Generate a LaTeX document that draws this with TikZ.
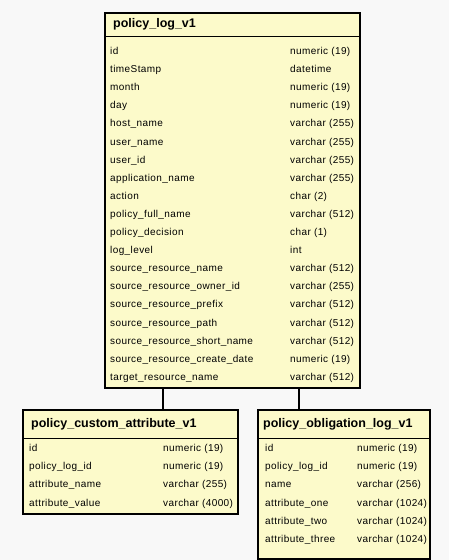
\documentclass[tikz,border=0pt]{standalone}
\usepackage{fontspec}
\setmainfont{Liberation Sans}
\newfontfamily\letracampo{Liberation Sans}[LetterSpace=4]
\definecolor{fondo}{RGB}{248,248,248}
\definecolor{tabla}{RGB}{252,250,202}
\tikzset{
  caja/.style={draw=black, line width=1.5pt, fill=tabla, anchor=north west, inner sep=0pt},
  titulo/.style={anchor=west, inner sep=0pt, font=\fontsize{12.5}{14}\selectfont\bfseries, text height=9pt, text depth=3pt},
  campo/.style={anchor=west, inner sep=0pt, font=\fontsize{10}{12}\selectfont\letracampo, text height=7pt, text depth=2pt},
  enlace/.style={line width=2pt}
}
\begin{document}
\begin{tikzpicture}[x=1pt, y=-1pt]
    % Fondo
    \fill[fondo] (0,0) rectangle (449,560);
    \useasboundingbox (0,0) rectangle (449,560);

    % Tabla principal
    \node[caja, minimum width=255pt, minimum height=375pt] (log) at (104,12) {};
    \draw[line width=0.8pt] ([yshift=-24pt]log.north west) -- ([yshift=-24pt]log.north east);
    \node[titulo] (log-tit) at (113,24) {policy\_log\_v1};
    \foreach \nombre/\tipo [count=\i from 0] in {
        id/numeric (19), timeStamp/datetime, month/numeric (19), day/numeric (19),
        host\_name/varchar (255), user\_name/varchar (255), user\_id/varchar (255),
        application\_name/varchar (255), action/char (2), policy\_full\_name/varchar (512),
        policy\_decision/char (1), log\_level/int, source\_resource\_name/varchar (512),
        source\_resource\_owner\_id/varchar (255), source\_resource\_prefix/varchar (512),
        source\_resource\_path/varchar (512), source\_resource\_short\_name/varchar (512),
        source\_resource\_create\_date/numeric (19), target\_resource\_name/varchar (512)}
    {
        \node[campo] (log-n\i) at (110, 52+18.1*\i) {\nombre};
        \node[campo] (log-t\i) at (290, 52+18.1*\i) {\tipo};
    }

    % Tabla de atributos
    \node[caja, minimum width=215pt, minimum height=104pt] (atrib) at (22,409) {};
    \draw[line width=0.8pt] ([yshift=-29pt]atrib.north west) -- ([yshift=-29pt]atrib.north east);
    \node[titulo] (atrib-tit) at (31,424) {policy\_custom\_attribute\_v1};
    \foreach \nombre/\tipo [count=\i from 0] in {
        id/numeric (19), policy\_log\_id/numeric (19),
        attribute\_name/varchar (255), attribute\_value/varchar (4000)}
    {
        \node[campo] (atrib-n\i) at (29, 449+18.2*\i) {\nombre};
        \node[campo] (atrib-t\i) at (163, 449+18.2*\i) {\tipo};
    }

    % Tabla de obligaciones
    \node[caja, minimum width=172pt, minimum height=149pt] (oblig) at (257,409) {};
    \draw[line width=0.8pt] ([yshift=-29pt]oblig.north west) -- ([yshift=-29pt]oblig.north east);
    \node[titulo] (oblig-tit) at (263,424) {policy\_obligation\_log\_v1};
    \foreach \nombre/\tipo [count=\i from 0] in {
        id/numeric (19), policy\_log\_id/numeric (19), name/varchar (256),
        attribute\_one/varchar (1024), attribute\_two/varchar (1024),
        attribute\_three/varchar (1024)}
    {
        \node[campo] (oblig-n\i) at (265, 449+18.2*\i) {\nombre};
        \node[campo] (oblig-t\i) at (357, 449+18.2*\i) {\tipo};
    }

    % Enlaces
    \coordinate (e1) at (163,0);
    \coordinate (e2) at (299,0);
    \draw[enlace] (e1 |- log.south) -- (e1 |- atrib.north);
    \draw[enlace] (e2 |- log.south) -- (e2 |- oblig.north);
\end{tikzpicture}
\end{document}
